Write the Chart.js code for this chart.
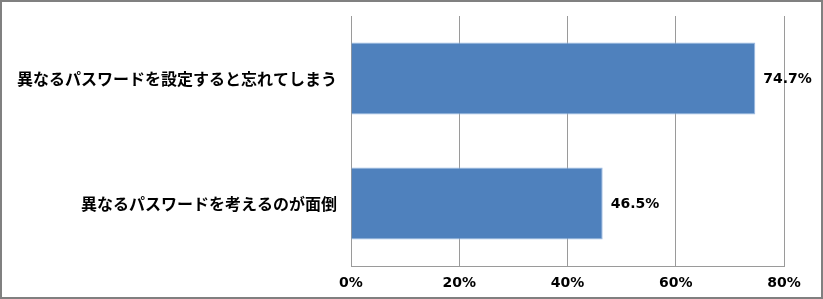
<!DOCTYPE html>
<html>
<head>
<meta charset="utf-8">
<script src="https://cdn.jsdelivr.net/npm/chart.js@4"></script>
<style>
  html, body { margin: 0; padding: 0; background: #fff; }
  #wrap {
    position: absolute; left: 0; top: 0;
    width: 823px; height: 299px;
    box-sizing: border-box;
    border: 2px solid #808080;
    background: #fff;
  }
  canvas { display: block; }
</style>
</head>
<body>
<div id="wrap"><canvas id="chart" width="819" height="295"></canvas></div>
<script>
const categories = ['異なるパスワードを設定すると忘れてしまう', '異なるパスワードを考えるのが面倒'];
const values = [74.7, 46.5];
const xTicks = [0, 20, 40, 60, 80];

const barColor = '#4F81BD';
const barEdge = '#9DBBE3';
const gridColor = '#9a9a9a';
const jpFont = '"Noto Sans CJK JP", "Noto Sans", sans-serif';
const numFont = '"DejaVu Sans", sans-serif';

// 棒の右に値ラベルを描く
const valueLabels = {
    id: 'valueLabels',
    afterDatasetsDraw(chart) {
        const ctx = chart.ctx;
        const meta = chart.getDatasetMeta(0);
        ctx.save();
        ctx.font = 'bold 14px ' + numFont;
        ctx.fillStyle = '#000';
        ctx.textAlign = 'left';
        ctx.textBaseline = 'middle';
        meta.data.forEach((bar, i) => {
            ctx.fillText(values[i].toFixed(1) + '%', bar.x + 8, bar.y + 1);
        });
        ctx.restore();
    }
};

new Chart(document.getElementById('chart').getContext('2d'), {
    type: 'bar',
    data: {
        labels: categories,
        datasets: [{
            data: values,
            backgroundColor: barColor,
            borderColor: barEdge,
            borderWidth: 1,
            barPercentage: 1,
            categoryPercentage: 0.576
        }]
    },
    options: {
        indexAxis: 'y',
        responsive: false,
        animation: false,
        layout: { padding: { left: 0, right: 37, top: 14, bottom: 0 } },
        plugins: {
            legend: { display: false },
            tooltip: { enabled: false }
        },
        scales: {
            x: {
                min: 0,
                max: 80,
                afterBuildTicks: (scale) => { scale.ticks = xTicks.map(v => ({ value: v })); },
                afterFit: (scale) => { scale.height = 31; },
                ticks: {
                    callback: (v) => v + '%',
                    color: '#000',
                    font: { family: numFont, size: 14, weight: 'bold' },
                    padding: 9,
                    maxRotation: 0
                },
                grid: { color: gridColor, lineWidth: 1, drawTicks: false },
                border: { display: true, color: gridColor, width: 1 }
            },
            y: {
                afterFit: (scale) => {
                    scale.width = 349;
                    scale.paddingTop = 0;
                    scale.paddingBottom = 0;
                },
                ticks: {
                    color: '#000',
                    font: { family: jpFont, size: 16, weight: 'bold' },
                    padding: 14
                },
                grid: { display: false, drawTicks: false },
                border: { display: true, color: gridColor, width: 1 }
            }
        }
    },
    plugins: [valueLabels]
});
</script>
</body>
</html>
